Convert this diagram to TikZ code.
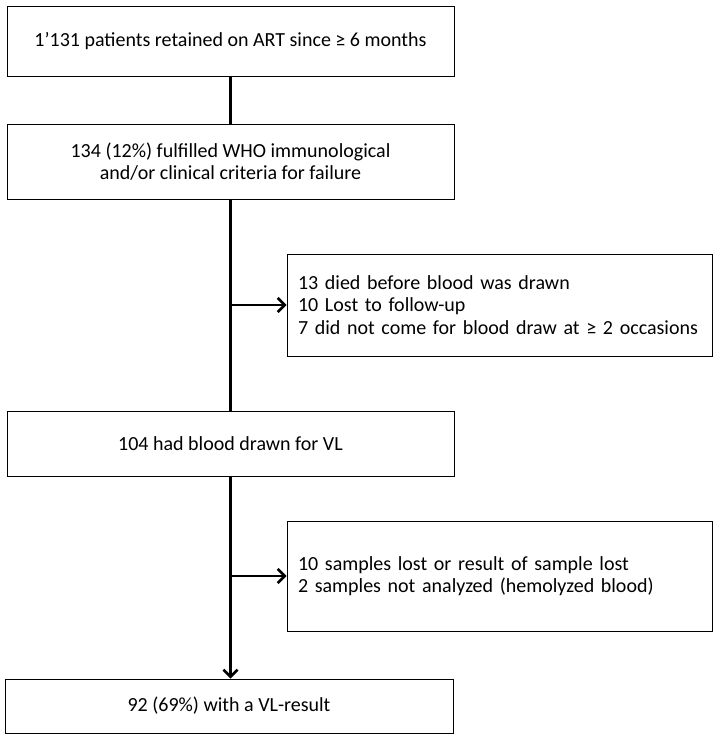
\documentclass[tikz,border=0pt]{standalone}
\usepackage{fontspec}
\setmainfont{Carlito}
\usetikzlibrary{arrows.meta}
\begin{document}
\begin{tikzpicture}[x=1pt,y=-1pt,
  font=\fontsize{20}{22.5}\selectfont,
  mainbox/.style={draw, line width=0.9pt, minimum width=447pt, inner sep=0pt, align=center},
  sidebox/.style={draw, line width=0.9pt, minimum width=425pt, inner sep=0pt, align=left, text width=403pt},
  conn/.style={line width=2.8pt},
  arr/.style={line width=2.8pt, -{Straight Barb[length=7pt,width=14pt,line width=2.6pt]}}
]
\useasboundingbox (0,0) rectangle (717,738);
\node[mainbox, minimum height=70pt] (b1) at (230.5,41) {1’131 patients retained on ART since ≥ 6 months};
\node[mainbox, minimum height=75pt] (b2) at (230.5,161.5) {134 (12\%) fulfilled WHO immunological\\and/or clinical criteria for failure};
\node[sidebox, minimum height=102pt] (s1) at (499.5,305) {13 died before blood was drawn\\10 Lost to follow-up\\7 did not come for blood draw at ≥ 2 occasions};
\node[mainbox, minimum height=65pt] (b3) at (230.5,443.5) {104 had blood drawn for VL};
\node[sidebox, minimum height=110pt] (s2) at (499.5,576) {10 samples lost or result of sample lost\\2 samples not analyzed (hemolyzed blood)};
\node[mainbox, minimum height=54pt, minimum width=448pt] (b4) at (229,706) {92 (69\%) with a VL-result};
\coordinate (j1) at (b2.south |- s1.west);
\coordinate (j2) at (b3.south |- s2.west);
\draw[conn] (b1.south) -- (b2.north);
\draw[conn] (b2.south) -- (b3.north);
\draw[arr] (j1) -- (s1.west);
\draw[arr] (b3.south) -- (b3.south |- b4.north);
\draw[arr] (j2) -- (s2.west);
\end{tikzpicture}
\end{document}
